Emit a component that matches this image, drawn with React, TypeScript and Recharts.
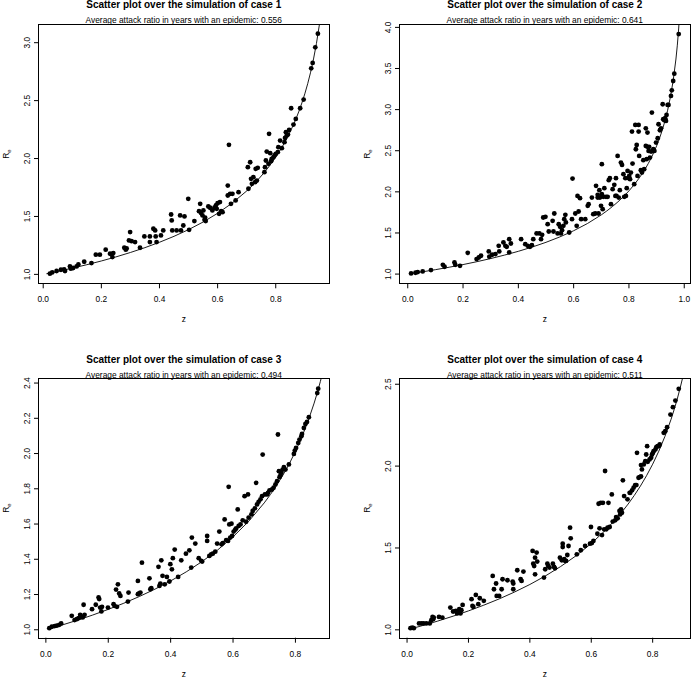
import { Scatter, ScatterChart, XAxis, YAxis } from 'recharts';

const FONT = '"Liberation Sans", Arial, Helvetica, sans-serif';

// theoretical final-size curve
const curveZ = [0.011, 0.02, 0.05, 0.1, 0.15, 0.2, 0.25, 0.3, 0.35, 0.4, 0.45, 0.5, 0.55, 0.6, 0.65, 0.7, 0.72, 0.74, 0.76, 0.78, 0.8, 0.82, 0.84, 0.86, 0.87, 0.88, 0.89, 0.9, 0.91, 0.92, 0.93, 0.94, 0.95, 0.96, 0.97, 0.975, 0.98, 0.985];
const curveR = [1.0056, 1.0101, 1.0259, 1.0536, 1.0835, 1.1157, 1.1507, 1.1889, 1.2308, 1.2771, 1.3286, 1.3863, 1.4518, 1.5272, 1.6151, 1.72, 1.768, 1.8204, 1.8778, 1.9412, 2.0118, 2.0912, 2.1817, 2.2862, 2.3451, 2.4094, 2.4801, 2.5584, 2.6461, 2.7453, 2.8594, 2.993, 3.1534, 3.353, 3.615, 3.7835, 3.9919, 4.2637];

const caseTitles = ['Scatter plot over the simulation of case 1', 'Scatter plot over the simulation of case 2', 'Scatter plot over the simulation of case 3', 'Scatter plot over the simulation of case 4'];
const attackRatios = ['0.556', '0.641', '0.494', '0.511'];

const case1: [number, number][] = [
  [0.023, 1.006], [0.031, 1.017], [0.046, 1.029], [0.061, 1.04], [0.072, 1.043], [0.075, 1.029], [0.092, 1.069], [0.095, 1.049], [0.103, 1.055], [0.115, 1.069],
  [0.121, 1.086], [0.141, 1.109], [0.166, 1.098], [0.181, 1.17], [0.195, 1.17], [0.215, 1.213], [0.23, 1.178], [0.241, 1.184], [0.238, 1.149], [0.279, 1.23],
  [0.284, 1.213], [0.287, 1.224], [0.299, 1.365], [0.295, 1.293], [0.304, 1.287], [0.316, 1.279], [0.333, 1.23], [0.348, 1.328], [0.367, 1.328], [0.367, 1.279],
  [0.379, 1.394], [0.385, 1.379], [0.387, 1.328], [0.39, 1.279], [0.405, 1.336], [0.413, 1.379], [0.44, 1.517], [0.442, 1.466], [0.444, 1.379], [0.459, 1.379],
  [0.471, 1.509], [0.474, 1.379], [0.482, 1.422], [0.486, 1.5], [0.499, 1.652], [0.502, 1.385], [0.52, 1.46], [0.54, 1.609], [0.536, 1.546], [0.543, 1.529],
  [0.548, 1.509], [0.551, 1.552], [0.555, 1.471], [0.557, 1.489], [0.559, 1.46], [0.568, 1.586], [0.574, 1.575], [0.582, 1.552], [0.589, 1.575], [0.594, 1.595],
  [0.597, 1.566], [0.6, 1.615], [0.605, 1.523], [0.608, 1.624], [0.612, 1.546], [0.617, 1.537], [0.635, 1.767], [0.635, 1.681], [0.643, 1.695], [0.646, 1.609],
  [0.651, 1.695], [0.662, 1.638], [0.672, 1.71], [0.639, 2.118], [0.704, 1.925], [0.706, 1.739], [0.712, 1.968], [0.715, 1.825], [0.718, 1.782], [0.723, 1.839],
  [0.729, 1.796], [0.731, 1.911], [0.738, 1.92], [0.735, 1.81], [0.761, 1.882], [0.763, 1.925], [0.766, 1.983], [0.769, 2.06], [0.775, 1.954], [0.777, 2.213],
  [0.781, 2.046], [0.784, 1.977], [0.786, 1.997], [0.792, 2.011], [0.796, 2.026], [0.8, 2.04], [0.807, 2.055], [0.809, 2.098], [0.815, 2.155], [0.821, 2.089],
  [0.83, 2.141], [0.832, 2.178], [0.835, 2.227], [0.838, 2.198], [0.842, 2.207], [0.846, 2.247], [0.853, 2.434], [0.861, 2.293], [0.869, 2.342], [0.884, 2.434],
  [0.896, 2.509], [0.922, 2.779], [0.927, 2.825], [0.936, 2.96], [0.945, 3.078],
];

const case2: [number, number][] = [
  [0.012, 1.008], [0.028, 1.016], [0.036, 1.024], [0.054, 1.032], [0.084, 1.049], [0.127, 1.113], [0.133, 1.089], [0.169, 1.142], [0.172, 1.113], [0.189, 1.101],
  [0.217, 1.259], [0.249, 1.182], [0.257, 1.202], [0.265, 1.223], [0.293, 1.275], [0.295, 1.211], [0.305, 1.235], [0.317, 1.243], [0.329, 1.344], [0.331, 1.275],
  [0.346, 1.385], [0.353, 1.344], [0.358, 1.332], [0.367, 1.425], [0.367, 1.263], [0.373, 1.372], [0.41, 1.425], [0.425, 1.364], [0.434, 1.344], [0.442, 1.332],
  [0.449, 1.352], [0.454, 1.425], [0.466, 1.494], [0.476, 1.494], [0.482, 1.425], [0.486, 1.478], [0.49, 1.688], [0.498, 1.696], [0.506, 1.607], [0.51, 1.518],
  [0.524, 1.648], [0.527, 1.518], [0.53, 1.737], [0.542, 1.494], [0.546, 1.607], [0.551, 1.575], [0.554, 1.494], [0.558, 1.534], [0.563, 1.587], [0.566, 1.668],
  [0.57, 1.721], [0.572, 1.628], [0.584, 1.506], [0.594, 1.668], [0.596, 2.162], [0.606, 1.737], [0.611, 1.587], [0.614, 1.951], [0.618, 1.761], [0.623, 1.923],
  [0.627, 1.668], [0.642, 1.668], [0.651, 1.83], [0.654, 1.85], [0.666, 1.931], [0.671, 1.729], [0.678, 1.737], [0.681, 2.073], [0.687, 1.964], [0.687, 1.931],
  [0.69, 1.737], [0.693, 2.02], [0.695, 1.931], [0.699, 1.83], [0.702, 1.972], [0.705, 1.789], [0.707, 1.939], [0.711, 2.045], [0.702, 2.336], [0.717, 1.939],
  [0.723, 1.939], [0.727, 2.142], [0.731, 2.166], [0.735, 1.85], [0.741, 2.032], [0.747, 2.085], [0.751, 1.951], [0.753, 2.166], [0.755, 1.951], [0.759, 2.437],
  [0.763, 1.931], [0.767, 2.02], [0.771, 2.356], [0.775, 2.328], [0.78, 2.215], [0.783, 1.939], [0.787, 2.166], [0.789, 1.951], [0.792, 2.045], [0.795, 2.255],
  [0.799, 2.166], [0.801, 2.194], [0.804, 2.154], [0.807, 2.235], [0.811, 2.733], [0.813, 2.344], [0.819, 2.093], [0.823, 2.814], [0.825, 2.518], [0.828, 2.571],
  [0.831, 2.194], [0.835, 2.814], [0.835, 2.733], [0.837, 2.437], [0.843, 2.263], [0.847, 2.235], [0.852, 2.385], [0.855, 2.275], [0.861, 2.773], [0.861, 2.559],
  [0.864, 2.397], [0.867, 2.721], [0.867, 2.547], [0.871, 2.498], [0.873, 2.547], [0.876, 2.417], [0.88, 2.49], [0.883, 2.964], [0.886, 2.498], [0.888, 2.518],
  [0.892, 2.498], [0.898, 2.599], [0.904, 2.652], [0.907, 2.822], [0.912, 2.749], [0.916, 2.773], [0.922, 3.065], [0.924, 2.883], [0.928, 2.87], [0.931, 2.895],
  [0.934, 2.862], [0.936, 2.935], [0.94, 3.057], [0.943, 3.057], [0.952, 3.166], [0.955, 3.235], [0.96, 3.348], [0.964, 3.437], [0.98, 3.919],
];

const case3: [number, number][] = [
  [0.011, 1.009], [0.019, 1.017], [0.028, 1.021], [0.035, 1.023], [0.043, 1.028], [0.049, 1.036], [0.083, 1.079], [0.092, 1.055], [0.099, 1.06], [0.105, 1.066],
  [0.11, 1.085], [0.113, 1.074], [0.118, 1.07], [0.121, 1.142], [0.124, 1.085], [0.148, 1.117], [0.16, 1.142], [0.169, 1.183], [0.171, 1.174], [0.174, 1.126],
  [0.178, 1.104], [0.18, 1.13], [0.199, 1.126], [0.217, 1.145], [0.22, 1.136], [0.228, 1.13], [0.225, 1.228], [0.231, 1.258], [0.235, 1.206], [0.239, 1.192],
  [0.263, 1.16], [0.265, 1.211], [0.295, 1.277], [0.295, 1.202], [0.299, 1.206], [0.303, 1.211], [0.308, 1.381], [0.332, 1.292], [0.335, 1.23], [0.338, 1.236],
  [0.361, 1.357], [0.364, 1.249], [0.367, 1.262], [0.37, 1.394], [0.374, 1.306], [0.381, 1.258], [0.388, 1.3], [0.396, 1.274], [0.399, 1.372], [0.404, 1.343],
  [0.407, 1.406], [0.413, 1.455], [0.424, 1.3], [0.434, 1.394], [0.449, 1.432], [0.46, 1.451], [0.466, 1.353], [0.468, 1.523], [0.479, 1.489], [0.49, 1.406],
  [0.498, 1.391], [0.501, 1.387], [0.517, 1.504], [0.517, 1.532], [0.524, 1.419], [0.53, 1.428], [0.535, 1.432], [0.543, 1.443], [0.549, 1.489], [0.556, 1.557],
  [0.563, 1.485], [0.567, 1.492], [0.573, 1.626], [0.578, 1.508], [0.584, 1.504], [0.586, 1.811], [0.588, 1.598], [0.591, 1.523], [0.595, 1.602], [0.597, 1.532],
  [0.602, 1.557], [0.607, 1.568], [0.61, 1.575], [0.615, 1.683], [0.618, 1.589], [0.624, 1.598], [0.631, 1.621], [0.637, 1.758], [0.642, 1.613], [0.648, 1.768],
  [0.65, 1.636], [0.659, 1.655], [0.663, 1.674], [0.67, 1.689], [0.674, 1.834], [0.677, 1.711], [0.682, 1.726], [0.688, 1.74], [0.693, 1.758], [0.695, 1.994],
  [0.702, 1.768], [0.709, 1.768], [0.712, 1.777], [0.717, 1.791], [0.725, 1.796], [0.73, 1.806], [0.736, 1.825], [0.741, 1.843], [0.747, 1.9], [0.744, 2.108],
  [0.749, 1.866], [0.752, 1.877], [0.755, 1.891], [0.759, 1.909], [0.763, 1.923], [0.768, 1.909], [0.779, 1.938], [0.795, 1.998], [0.798, 2.017], [0.802, 2.032],
  [0.809, 2.06], [0.813, 2.079], [0.819, 2.098], [0.821, 2.111], [0.827, 2.145], [0.832, 2.168], [0.837, 2.179], [0.843, 2.206], [0.87, 2.343], [0.873, 2.368],
];

const case4: [number, number][] = [
  [0.011, 1.01], [0.017, 1.014], [0.022, 1.01], [0.039, 1.039], [0.047, 1.039], [0.054, 1.039], [0.063, 1.039], [0.074, 1.039], [0.079, 1.059], [0.083, 1.079],
  [0.085, 1.065], [0.087, 1.075], [0.104, 1.079], [0.115, 1.075], [0.141, 1.136], [0.15, 1.112], [0.159, 1.116], [0.163, 1.1], [0.167, 1.106], [0.17, 1.126],
  [0.172, 1.116], [0.174, 1.1], [0.177, 1.12], [0.181, 1.152], [0.21, 1.187], [0.213, 1.146], [0.216, 1.14], [0.224, 1.213], [0.232, 1.157], [0.237, 1.193],
  [0.25, 1.177], [0.279, 1.329], [0.283, 1.248], [0.29, 1.283], [0.292, 1.207], [0.3, 1.207], [0.308, 1.248], [0.311, 1.309], [0.327, 1.303], [0.344, 1.295],
  [0.346, 1.248], [0.346, 1.283], [0.359, 1.364], [0.37, 1.309], [0.373, 1.299], [0.379, 1.356], [0.409, 1.482], [0.411, 1.404], [0.414, 1.39], [0.417, 1.339],
  [0.417, 1.441], [0.422, 1.472], [0.424, 1.417], [0.446, 1.319], [0.45, 1.37], [0.457, 1.404], [0.46, 1.39], [0.464, 1.38], [0.475, 1.404], [0.479, 1.384],
  [0.482, 1.376], [0.498, 1.441], [0.504, 1.425], [0.507, 1.526], [0.507, 1.506], [0.512, 1.431], [0.515, 1.421], [0.518, 1.421], [0.522, 1.457], [0.526, 1.512],
  [0.531, 1.624], [0.533, 1.559], [0.553, 1.461], [0.566, 1.486], [0.58, 1.512], [0.596, 1.526], [0.599, 1.628], [0.602, 1.53], [0.607, 1.543], [0.62, 1.587],
  [0.624, 1.77], [0.627, 1.62], [0.631, 1.776], [0.635, 1.579], [0.638, 1.776], [0.642, 1.614], [0.645, 1.97], [0.649, 1.614], [0.653, 1.624], [0.656, 1.776],
  [0.66, 1.628], [0.667, 1.827], [0.67, 1.661], [0.678, 1.669], [0.681, 1.689], [0.686, 1.681], [0.692, 1.726], [0.694, 1.705], [0.697, 1.736], [0.7, 1.715],
  [0.703, 1.913], [0.707, 1.817], [0.718, 1.797], [0.725, 1.837], [0.727, 1.837], [0.733, 1.852], [0.738, 1.868], [0.743, 1.884], [0.747, 1.884], [0.749, 2.081],
  [0.754, 1.929], [0.758, 1.933], [0.762, 1.937], [0.762, 2.006], [0.765, 1.98], [0.771, 2.01], [0.776, 2.03], [0.779, 2.071], [0.782, 2.122], [0.784, 2.026],
  [0.79, 2.041], [0.795, 2.051], [0.798, 2.071], [0.801, 2.081], [0.803, 2.091], [0.809, 2.102], [0.812, 2.116], [0.816, 2.122], [0.82, 2.122], [0.823, 2.132],
  [0.836, 2.203], [0.841, 2.213], [0.847, 2.238], [0.858, 2.315], [0.866, 2.36], [0.874, 2.4], [0.885, 2.472],
];

const xTicks1 = [0, 0.2, 0.4, 0.6, 0.8];
const xTicks2 = [0, 0.2, 0.4, 0.6, 0.8, 1.0];
const yTicks1 = [1.0, 1.5, 2.0, 2.5, 3.0];
const yTicks2 = [1.0, 1.5, 2.0, 2.5, 3.0, 3.5, 4.0];
const yTicks3 = [1.0, 1.2, 1.4, 1.6, 1.8, 2.0, 2.2, 2.4];
const yTicks4 = [1.0, 1.5, 2.0, 2.5];

const curve = curveZ.map((z, i) => ({ z, r: curveR[i] }));
const toPts = (arr: [number, number][]) => arr.map(([z, r]) => ({ z, r }));

const panels = [
  { left: 0, top: 0, width: 345, height: 338, margin: { top: 24.5, right: 16.5, bottom: 24.7, left: 9 }, xDomain: [-0.0145, 0.9815], yDomain: [0.923, 3.157], xTicks: xTicks1, yTicks: yTicks1, points: toPts(case1) },
  { left: 345, top: 0, width: 346, height: 338, margin: { top: 24.5, right: 1.5, bottom: 24.7, left: 25 }, xDomain: [-0.028, 1.019], yDomain: [0.888, 4.035], xTicks: xTicks2, yTicks: yTicks2, points: toPts(case2) },
  { left: 0, top: 338, width: 345, height: 339, margin: { top: 41, right: 16.5, bottom: 9.3, left: 9 }, xDomain: [-0.022, 0.906], yDomain: [0.955, 2.423], xTicks: xTicks1, yTicks: yTicks3, points: toPts(case3) },
  { left: 345, top: 338, width: 346, height: 339, margin: { top: 41, right: 1.5, bottom: 9.3, left: 25 }, xDomain: [-0.023, 0.92], yDomain: [0.952, 2.532], xTicks: xTicks1, yTicks: yTicks4, points: toPts(case4) },
];

const fmt = (v: number) => v.toFixed(1);

const YTick = (props: any) => {
  const { x, y, payload } = props;
  return (
    <text x={x} y={y} transform={`rotate(-90 ${x} ${y})`} textAnchor="middle" fontSize={8.4} fill="#000" fontFamily={FONT}>
      {fmt(payload.value)}
    </text>
  );
};

const Dot = (props: any) => <circle cx={props.cx} cy={props.cy} r={2.4} fill="#000" />;

const Txt = ({ x, y, size, bold, rotate, children }: any) => (
  <div
    style={{
      position: 'absolute', left: x, top: y, fontSize: size, fontWeight: bold ? 'bold' : 'normal', lineHeight: 1, whiteSpace: 'nowrap',
      transform: `translate(-50%, -50%)${rotate ? ' rotate(-90deg)' : ''}`, color: '#000',
    }}
  >
    {children}
  </div>
);

export default function App() {
  return (
    <div style={{ position: 'absolute', left: 0, top: 0, width: 691, height: 677, background: '#fff', fontFamily: FONT }}>
      {panels.map((p, i) => {
        const boxL = p.left + p.margin.left + 30;
        const boxR = p.left + p.width - p.margin.right;
        const boxT = p.top + p.margin.top;
        const boxB = p.top + p.height - p.margin.bottom - 30;
        const cx = (boxL + boxR) / 2;
        return (
          <div key={i}>
            <div style={{ position: 'absolute', left: p.left, top: p.top }}>
              <ScatterChart width={p.width} height={p.height} margin={p.margin}>
                <XAxis type="number" dataKey="z" domain={p.xDomain} ticks={p.xTicks} tickFormatter={fmt} allowDataOverflow height={30}
                  axisLine={false} tickLine={{ stroke: '#000' }} tickSize={5} tickMargin={8} tick={{ fontSize: 8.4, fill: '#000', fontFamily: FONT }} interval={0} />
                <YAxis type="number" dataKey="r" domain={p.yDomain} ticks={p.yTicks} allowDataOverflow width={30}
                  axisLine={false} tickLine={{ stroke: '#000' }} tickSize={5} tickMargin={4} tick={<YTick />} interval={0} />
                <Scatter data={curve} line={{ stroke: '#000', strokeWidth: 0.9 }} lineType="joint" shape={() => <g />} isAnimationActive={false} />
                <Scatter data={p.points} shape={<Dot />} isAnimationActive={false} />
              </ScatterChart>
            </div>
            <div style={{ position: 'absolute', left: Math.round(boxL) - 1, top: Math.round(boxT) - 1, width: Math.round(boxR) - Math.round(boxL), height: Math.round(boxB) - Math.round(boxT), border: '1px solid #000', pointerEvents: 'none' }} />
            <Txt x={cx} y={i < 2 ? 5 : 359.5} size={10} bold>{caseTitles[i]}</Txt>
            <Txt x={cx} y={i < 2 ? 20 : 375} size={8.4}>Average attack ratio in years with an epidemic: {attackRatios[i]}</Txt>
            <Txt x={cx} y={boxB + 36} size={8.4}>z</Txt>
            <Txt x={boxL - 32} y={(boxT + boxB) / 2} size={8.4} rotate>
              R<sub style={{ fontSize: 6 }}>e</sub>
            </Txt>
          </div>
        );
      })}
    </div>
  );
}
